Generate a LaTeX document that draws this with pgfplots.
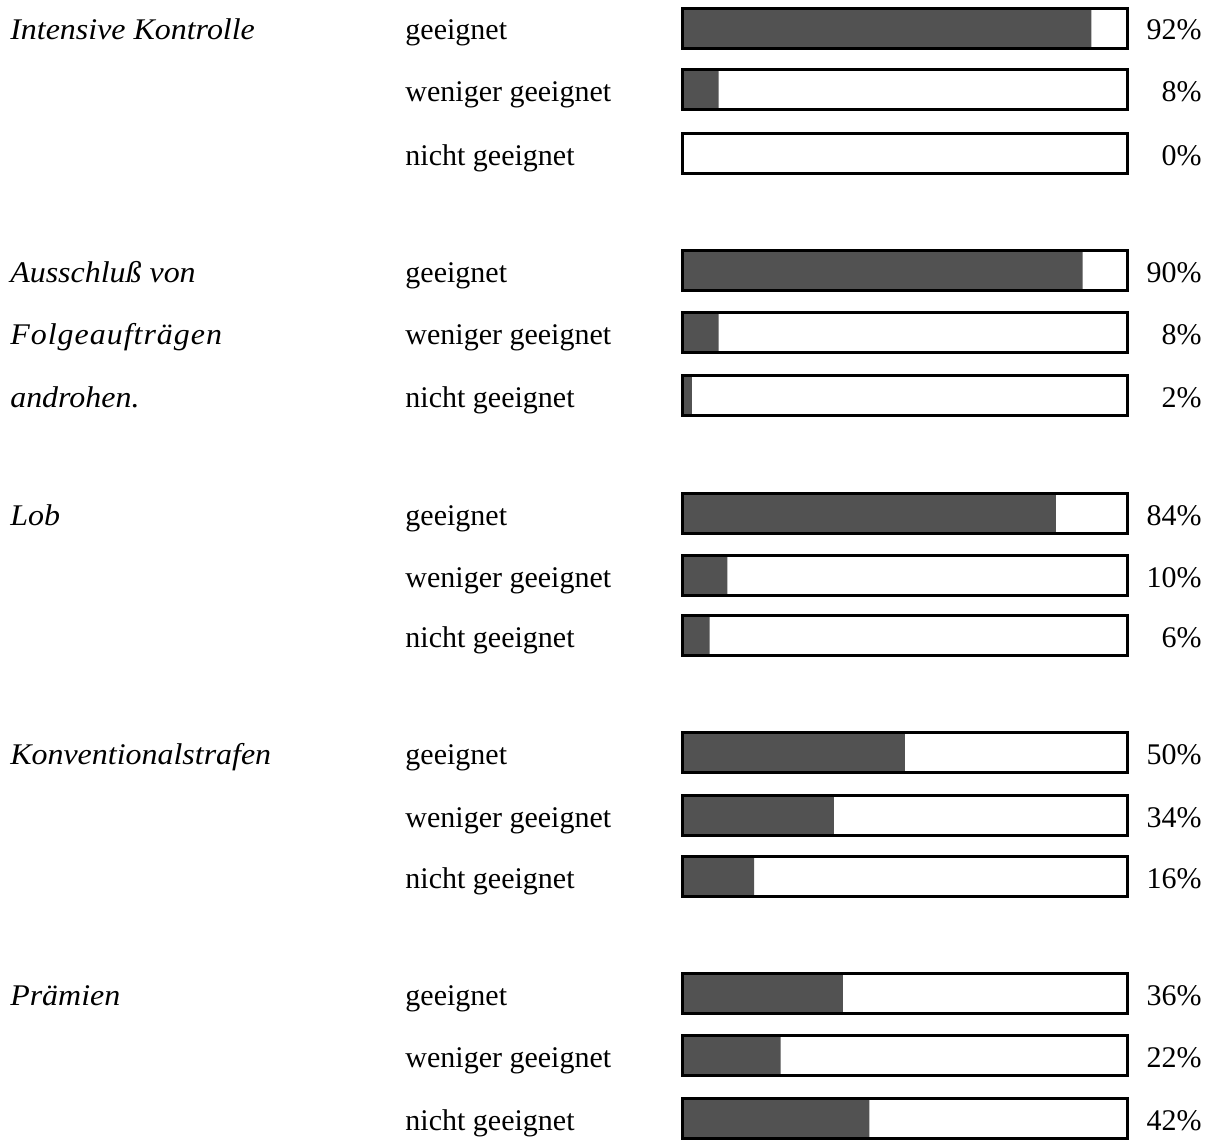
\documentclass[border=0pt]{standalone}
\usepackage{pgfplots}
\usepackage{pgfplotstable}
\pgfplotsset{compat=1.18}
\usepackage{fontspec}
\setmainfont{Liberation Serif}
\newfontfamily\catfont[FakeStretch=1.065]{Liberation Serif}
\pgfplotstableread{
y pct full
28 92 100
89 8 100
153 0 100
270 90 100
332 8 100
395 2 100
513 84 100
575 10 100
635 6 100
752 50 100
815 34 100
876 16 100
993 36 100
1055 22 100
1118 42 100
}\data
\tikzset{lbl/.style={inner sep=0pt, font=\fontsize{15}{18}\selectfont},
  cat/.style={inner sep=0pt, font=\catfont\fontsize{15}{18}\selectfont\itshape}}
\begin{document}
\fontsize{15}{18}\selectfont
\begin{tikzpicture}
\begin{axis}[
  scale only axis,
  width=222pt, height=569pt,
  xmin=0, xmax=100, ymin=0, ymax=1138,
  y dir=reverse,
  hide axis,
  clip=false,
]
\path (axis cs:-153.83,0) rectangle (axis cs:119.37,1138);
\addplot[xbar, bar shift=0pt, bar width=40, fill=white, draw=none] table[x=full,y=y]{\data};
\addplot[xbar, bar shift=0pt, bar width=40, fill=black!68, draw=none] table[x=pct,y=y]{\data};
\addplot[xbar, bar shift=0pt, bar width=40, fill=none, draw=black, line width=1.5pt] table[x=full,y=y]{\data};
% category labels
\node[cat, anchor=base west] at (axis cs:-151.6,40) {Intensive Kontrolle};
\node[cat, anchor=base west] at (axis cs:-151.6,282) {Ausschluß von};
\node[cat, anchor=base west] at (axis cs:-151.6,344) {F\kern0.5pt o\kern0.5pt l\kern0.5pt g\kern0.5pt e\kern0.5pt a\kern0.5pt u\kern0.5pt f\kern0.5pt t\kern0.5pt r\kern0.5pt ä\kern0.5pt g\kern0.5pt e\kern0.5pt n};
\node[cat, anchor=base west] at (axis cs:-151.6,407) {androhen.};
\node[cat, anchor=base west] at (axis cs:-151.6,525) {Lob};
\node[cat, anchor=base west] at (axis cs:-151.6,764) {Konventionalstrafen};
\node[cat, anchor=base west] at (axis cs:-151.6,1005) {Prämien};
% sub labels
\node[lbl, anchor=base west] at (axis cs:-62.6,40) {geeignet};
\node[lbl, anchor=base west] at (axis cs:-62.6,282) {geeignet};
\node[lbl, anchor=base west] at (axis cs:-62.6,525) {geeignet};
\node[lbl, anchor=base west] at (axis cs:-62.6,764) {geeignet};
\node[lbl, anchor=base west] at (axis cs:-62.6,1005) {geeignet};
\node[lbl, anchor=base west] at (axis cs:-62.6,101) {weniger geeignet};
\node[lbl, anchor=base west] at (axis cs:-62.6,344) {weniger geeignet};
\node[lbl, anchor=base west] at (axis cs:-62.6,587) {weniger geeignet};
\node[lbl, anchor=base west] at (axis cs:-62.6,827) {weniger geeignet};
\node[lbl, anchor=base west] at (axis cs:-62.6,1067) {weniger geeignet};
\node[lbl, anchor=base west] at (axis cs:-62.6,165) {nicht geeignet};
\node[lbl, anchor=base west] at (axis cs:-62.6,407) {nicht geeignet};
\node[lbl, anchor=base west] at (axis cs:-62.6,647) {nicht geeignet};
\node[lbl, anchor=base west] at (axis cs:-62.6,888) {nicht geeignet};
\node[lbl, anchor=base west] at (axis cs:-62.6,1130) {nicht geeignet};
% percentages
\node[lbl, anchor=base east] at (axis cs:116.9,40) {92\%};
\node[lbl, anchor=base east] at (axis cs:116.9,101) {8\%};
\node[lbl, anchor=base east] at (axis cs:116.9,165) {0\%};
\node[lbl, anchor=base east] at (axis cs:116.9,282) {90\%};
\node[lbl, anchor=base east] at (axis cs:116.9,344) {8\%};
\node[lbl, anchor=base east] at (axis cs:116.9,407) {2\%};
\node[lbl, anchor=base east] at (axis cs:116.9,525) {84\%};
\node[lbl, anchor=base east] at (axis cs:116.9,587) {10\%};
\node[lbl, anchor=base east] at (axis cs:116.9,647) {6\%};
\node[lbl, anchor=base east] at (axis cs:116.9,764) {50\%};
\node[lbl, anchor=base east] at (axis cs:116.9,827) {34\%};
\node[lbl, anchor=base east] at (axis cs:116.9,888) {16\%};
\node[lbl, anchor=base east] at (axis cs:116.9,1005) {36\%};
\node[lbl, anchor=base east] at (axis cs:116.9,1067) {22\%};
\node[lbl, anchor=base east] at (axis cs:116.9,1130) {42\%};
\end{axis}
\end{tikzpicture}
\end{document}
